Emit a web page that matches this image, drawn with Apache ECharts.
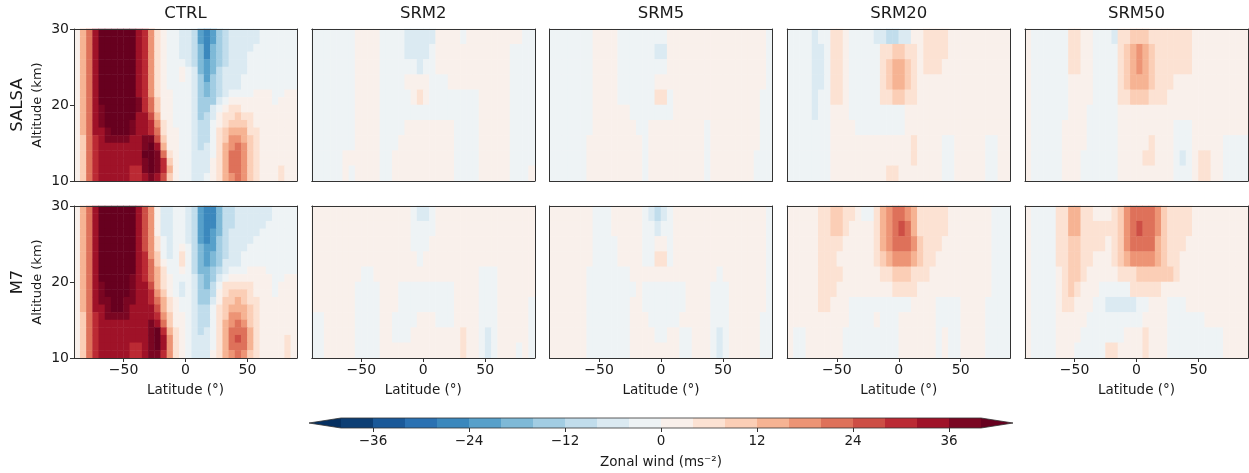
<!DOCTYPE html>
<html><head><meta charset="utf-8">
<script src="https://cdn.jsdelivr.net/npm/echarts@6/dist/echarts.min.js"></script>
<style>html,body{margin:0;padding:0;background:#fff}#c{width:1249px;height:473px}</style>
</head><body><div id="c"></div>
<script>
// ---------- data ----------
const latitudes = [-87.5,-82.5,-77.5,-72.5,-67.5,-62.5,-57.5,-52.5,-47.5,-42.5,-37.5,-32.5,-27.5,-22.5,-17.5,-12.5,-7.5,-2.5,2.5,7.5,12.5,17.5,22.5,27.5,32.5,37.5,42.5,47.5,52.5,57.5,62.5,67.5,72.5,77.5,82.5,87.5];
const altitudesCtrl = [29.5,28.5,27.5,26.5,25.5,24.5,23.5,22.5,21.5,20.5,19.5,18.5,17.5,16.5,15.5,14.5,13.5,12.5,11.5,10.5]; // rows of CTRL matrices (top to bottom)
const altitudesSrm = [29,27,25,23,21,19,17,15,13,11]; // rows of SRM matrices (top to bottom)
const columnTitles = ['CTRL','SRM2','SRM5','SRM20','SRM50'];
const rowNames = ['SALSA','M7'];
const latTicks = [-50,0,50];
const cbLevels = [-40,-36,-32,-28,-24,-20,-16,-12,-8,-4,0,4,8,12,16,20,24,28,32,36,40];
const cbTicks = [-36,-24,-12,0,12,24,36];

const CTRL_SALSA = [
[3,12,23,33, 45,45,45,45,45,45, 35,28,17,4,0.5,-1,-4,-6, -6,-10,-21,-26,-21,-15,-10,-7,-6,-5,-4.5,-4.5,-3,-2,-2,-2,-2,-2],
[3,12,23,33, 45,45,45,45,45,45, 35,28,17,4,0.5,-1,-4,-6, -6,-10,-21,-26,-21,-15,-10,-7,-6,-5,-4.5,-4.5,-3,-2,-2,-2,-2,-2],
[3,12,23,33, 45,45,45,45,45,45, 35,28,17,4,0.5,-1,-4,-6, -6,-10,-20,-26,-20,-14,-10,-7,-6,-5,-4.5,-4,-3,-2,-2,-2,-2,-2],
[3,12,23,33, 45,45,45,45,45,45, 35,28,17,5,0.5,-1,-3,-5, -6,-9,-19,-25,-19,-14,-9,-7,-5,-5,-4,-3,-2,-2,-2,-2,-2,-2],
[3,12,23,33, 45,45,45,45,45,45, 35,28,17,5,1,-1,-3,-4, -5,-9,-18,-23,-18,-13,-9,-6,-5,-4.5,-4,-3,-2,-2,-2,-2,-2,-2],
[3,12,23,33, 45,45,45,45,45,45, 35,28,17,6,1,-1,-2,1, -4,-8,-17,-22,-17,-12,-8,-6,-5,-4.5,-3.5,-3,-2,-2,-2,-2,-2,-2],
[3,12,23,33, 45,45,45,45,45,45, 35,29,18,6,1,-1,-2,1, -4,-8,-16,-21,-16,-11,-8,-6,-5,-4,-3,-3,-2,-1,-1,-1,-1,-1],
[3,12,23,33, 45,45,45,45,45,44, 35,29,18,7,1,-1,-1,-2, -3,-8,-15,-20,-15,-10,-7,-5,-4.5,-3,-2,-2,-2,-1,-1,-1,-1,-1],
[3,12,23,33, 44,45,45,45,45,43, 35,29,19,7,2,0,-1,-2, -3,-8,-15,-18,-14,-9,-5,-3,-2,-1,-0.5,0.5,0.5,0.5,-0.5,-0.5,0.5,0.5],
[3,12,23,33, 42,45,45,45,45,42, 36,30,20,8,2,0,-1,-2, -3,-8,-14,-16,-13,-7,-2,0.5,1,1,1,0.5,0.5,0.5,-0.5,0.5,0.5,0.5],
[3,12,23,33, 38,45,45,45,45,41, 36,30,20,9,2,0.5,-1,-2, -3,-8,-13,-13,-8,-3,3,5,5,3,2,1,1,1,1,1,1,1],
[3,12,23,33, 37,43,45,45,45,41, 35,32,24,12,3,0.5,-1,-2, -3,-8,-13,-12,-6,1,5,7,8,6,4,2,1,1,1,1,1,1],
[3,12,23,33, 36,42,45,45,42,38, 35,34,28,16,5,1,-1,-2, -3,-8,-12,-11,-4,3,7,10,11,9,5,3,1,1,1,1,1,1],
[3,12,23,33, 35,38,43,43,41,37, 34,34,31,20,7,1,0,-2, -3,-7,-11,-10,-3,4,9,14,15,12,7,4,2,1,1,1,1,1],
[2,10,20,30, 34,36,38,38,36,34, 34,36,38,26,10,2,0,-1, -3,-7,-10,-9,-2,5,11,17,18,14,8,4,2,1,1,1,1,1],
[2,10,20,30, 34,34,34,34,34,34, 34,38,41,32,14,3,0,-1, -3,-6,-9,-8,-1,5,12,19,20,16,9,5,2,1,1,1,1,1],
[2,10,20,30, 34,34,34,34,34,34, 34,40,44,36,20,5,1,-1, -3,-6,-8,-7,-1,5,13,21,22,18,10,5,2,1,1,1,1,1],
[2,10,20,30, 34,34,34,34,34,34, 33,39,44,37,28,10,2,-1, -2,-6,-7,-6,0,5,13,21,22,18,10,5,2,1,1,1,1,1],
[2,10,20,30, 34,34,34,34,34,30, 31,37,41,37,28,12,2,-1, -2,-5,-6,-5,0,5,13,20,22,18,10,5,2,1,2,5,1,1],
[2,10,20,30, 34,34,34,34,34,30, 31,35,37,35,26,11,2,-1, -2,-5,-6,-4,0,4,12,19,21,17,9,5,2,1,2,5,1,1]
];
const CTRL_M7 = [
[3,12,23,33, 45,45,45,45,45,45, 34,26,16,1,-5,-5,-3,-2, -6,-11,-24,-27,-25,-19,-12,-9,-7,-6,-5,-5,-4.5,-4.5,-3,-2,-2,-2],
[3,12,23,33, 45,45,45,45,45,45, 34,26,16,1,-5,-5,-3,-2, -6,-11,-24,-27,-25,-19,-12,-9,-7,-6,-5,-5,-4.5,-4.5,-3,-2,-2,-2],
[3,12,23,33, 45,45,45,45,45,45, 34,26,16,2,-5,-5,-3,-2, -6,-11,-24,-27,-25,-18,-12,-9,-7,-6,-5,-5,-4.5,-4,-3,-2,-2,-2],
[3,12,23,33, 45,45,45,45,45,45, 34,26,17,3,-5,-5,-3,-2, -6,-10,-23,-26,-24,-17,-11,-8,-6,-5,-5,-4.5,-4,-3,-2,-2,-2,-2],
[3,12,23,33, 45,45,45,45,45,45, 34,27,17,4,-4,-5,-3,-2, -5,-10,-22,-25,-22,-16,-10,-7,-6,-5,-4.5,-4,-3,-2,-2,-2,-2,-2],
[3,12,23,33, 45,45,45,45,45,45, 34,27,18,6,-3,-5,-3,3, -2,-9,-20,-23,-21,-15,-10,-7,-5,-4.5,-4,-3,-2,-2,-2,-2,-2,-2],
[3,12,23,33, 45,45,45,45,45,44, 34,28,19,8,-2,-5,-3,5, -2,-9,-19,-22,-20,-14,-9,-6,-5,-4,-3,-3,-2,-1,-1,-1,-1,-1],
[3,12,23,33, 45,45,45,45,45,43, 34,28,20,9,1,-4,-3,5, -3,-9,-18,-21,-18,-13,-8,-6,-4.5,-3,-2,-2,-2,-1,-1,-1,-1,-1],
[3,12,23,33, 44,45,45,45,45,40, 35,30,22,12,4,-1,-2,2, -4,-9,-17,-19,-16,-11,-6,-3,-1,-0.5,0.5,0.5,0.5,-0.5,-0.5,-0.5,-0.5,-0.5],
[3,12,23,33, 42,45,45,45,44,38, 35,30,22,12,4,0.5,-2,-3, -4,-8,-16,-18,-14,-8,-2,1,1,1,1,1,0.5,0.5,-0.5,-0.5,0.5,0.5],
[3,12,23,33, 38,45,45,45,43,37, 35,32,25,15,6,1,-3,-5, -3,-8,-15,-17,-12,-4,4,5,5,5,4,2,1,0.5,-0.5,0.5,0.5,0.5],
[3,12,23,33, 37,41,45,45,41,36, 34,33,28,19,9,2,-2,-5, -3,-8,-14,-15,-9,1,6,8,9,8,5,3,1,1,-0.5,1,1,1],
[3,12,23,33, 36,39,43,43,39,36, 34,34,31,23,12,4,0.5,-2, -3,-8,-13,-13,-6,3,8,10,12,10,6,4,1,1,1,1,1,1],
[3,12,23,33, 35,38,41,42,38,35, 34,34,33,26,15,6,1,-1, -3,-8,-12,-11,-4,4,10,14,15,13,8,4,2,1,1,1,1,1],
[2,10,20,30, 34,36,38,38,36,34, 34,34,34,30,18,8,2,0, -3,-7,-11,-10,-3,4,11,16,18,15,9,5,2,1,1,1,1,1],
[2,10,20,30, 34,34,34,34,34,34, 34,34,36,35,22,10,3,0.5, -3,-7,-10,-9,-2,5,12,18,21,18,11,5,2,1,1,1,1,1],
[2,10,20,30, 34,34,34,34,34,34, 34,34,38,42,30,14,5,1, -3,-6,-9,-8,-2,5,13,20,23,20,12,6,2,1,1,1,1,1],
[2,10,20,30, 34,34,34,34,34,34, 34,35,39,44,34,18,7,2, -2,-6,-8,-7,-1,5,13,21,24,21,12,6,2,1,1,2,5,1],
[2,10,20,30, 34,34,34,34,34,31, 30,34,38,42,33,18,7,2, -2,-6,-7,-6,-1,5,13,21,23,21,12,6,2,1,1,2,5,1],
[2,10,20,30, 33,33,33,33,33,31, 29,33,36,38,31,16,6,1, -2,-5,-6,-5,0,4,12,19,22,19,11,5,2,1,1,2,5,1]
];
const SRM2_SALSA = [
[-1,-1,-1,-1,-1,-1,-1, 1,1,1,1, -1,-1,-1,-1, -5,-5,-5,-5,-5, 1,1,1,1, -1, 1,1,1,1,1,1,1,1,1, -1,-1],
[-1,-1,-1,-1,-1,-1,-1, 1,1,1,1, -1,-1,-1,-1, -5,-5,-5,-5, -1, 1,1,1,1,1,1,1,1,1,1,1,1, -1,-1,-1,-1],
[-1,-1,-1,-1,-1,-1,-1, 1,1,1,1, -1,-1,-1,-1,-1,-1, -5, -1,-1, 1,1,1,1,1,1,1,1,1,1,1,1, -1,-1,-1,-1],
[-1,-1,-1,-1,-1,-1,-1, 1,1,1,1, -1,-1,-1,-1, 1,1,1,1, -1,-1,-1, 1,1,1,1,1,1,1,1,1,1, -1,-1,-1,-1],
[-1,-1,-1,-1,-1,-1,-1, 1,1,1,1, -1,-1,-1,-1,-1, 1,5,1, -1,-1,-1,-1,-1,-1,-1,-1, 1,1,1,1,1, -1,-1,-1,-1],
[-1,-1,-1,-1,-1,-1,-1, 1,1,1,1, -1,-1,-1,-1,-1,-1,-1,-1,-1,-1,-1,-1,-1,-1,-1,-1, 1,1,1,1,1, -1,-1,-1,-1],
[-1,-1,-1,-1,-1,-1,-1, 1,1,1,1, -1,-1,-1,-1, 1,1,1,1,1,1,1,1, -1,-1,-1,-1, 1,1,1,1,1, -1,-1,-1,-1],
[-1,-1,-1,-1,-1,-1,-1, 1,1,1,1, -1,-1,-1, 1,1,1,1,1,1,1,1,1, -1,-1,-1,-1, 1,1,1,1,1, -1,-1,-1,-1],
[-1,-1,-1,-1,-1, 1,1,1,1,1,1, -1,-1, 1,1,1,1,1,1,1,1,1,1, -1,-1,-1,-1, 1,1,1,1,1, -1,-1,-1,-1],
[-1,-1,-1,-1,-1, 1, -1, 1,1,1,1, -1,-1, 1,1,1,1,1,1,1,1,1,1, -1,-1,-1,-1, 1,1,1,1,1, -1,-1,-1, 1]
];
const SRM5_SALSA = [
[-1,-1,-1,-1,-1,-1,-1, 1,1,1,1, -1,-1,-1,-1,-1,-1,-1,-1, 1,1,1,1,1,1,1,1,1,1,1,1,1,1,1,1, -1],
[-1,-1,-1,-1,-1,-1,-1, 1,1,1,1, -1,-1,-1,-1,-1,-1, -5,-5, 1,1,1,1,1,1,1,1,1,1,1,1,1,1,1,1, -1],
[-1,-1,-1,-1,-1,-1,-1, 1,1,1,1, -1,-1,-1,-1,-1,-1,-1,-1, 1,1,1,1,1,1,1,1,1,1,1,1,1,1,1,1, -1],
[-1,-1,-1,-1,-1,-1,-1, 1,1,1,1, -1,-1,-1,-1,-1,-1, 1,1,1,1,1,1,1,1,1,1,1,1,1,1,1,1,1,1, -1],
[-1,-1,-1,-1,-1,-1,-1, 1,1,1,1, -1,-1,-1,-1,-1,-1, 5,5, -1, 1,1,1,1,1,1,1,1,1,1,1,1,1,1, -1,-1],
[-1,-1,-1,-1,-1,-1,-1, 1,1,1,1,1,1, -1,-1,-1,-1,-1,-1,-1, 1,1,1,1,1,1,1,1,1,1,1,1,1,1, -1,-1],
[-1,-1,-1,-1,-1,-1,-1, 1,1,1,1,1,1,1, -1,-1, 1,1,1,1,1,1,1,1,1, -1, 1,1,1,1,1,1,1,1, -1,-1],
[-1,-1,-1,-1,-1,-1, 1,1,1,1,1,1,1,1,1, -1, 1,1,1,1,1,1,1,1,1, -1, 1,1,1,1,1,1,1,1, -1,-1],
[-1,-1,-1,-1,-1,-1, 1,1,1,1,1,1,1,1,1, -1, 1,1,1,1,1,1,1,1,1, -1, 1,1,1,1,1,1,1, -1,-1,-1],
[-1,-1,-1,-1,-1,-1, 1,1,1,1,1,1,1,1,1, -1, 1,1,1,1,1,1,1,1,1, -1, 1,1,1,1,1,1,1, -1,-1,-1]
];
const SRM20_SALSA = [
[-1,-1,-1,-1, -5, -1,-1, 5,5, 1, -1,-1,-1,-1, -5,-5, -9,-9, -5,-5, 1,1, 5,5,5,5, 1,1,1,1,1,1,1,1,1,1],
[-1,-1,-1,-1, -5,-5, -1, 5,5, 1, -1,-1,-1,-1,-1, 5,5, 9,9, 5,5, 1, 5,5,5,5, 1,1,1,1,1,1,1,1,1,1],
[-1,-1,-1,-1, -5,-5, -1, 5,5, 1, -1,-1,-1,-1,-1, 5, 9, 13,13, 9, 5, 1, 5,5,5, 1,1,1,1,1,1,1,1,1,1,1],
[-1,-1,-1,-1, -5,-5, -1, 5,5, 1, -1,-1,-1,-1,-1, 5, 9, 13,13, 9, 5, 1,1,1,1,1,1,1,1,1,1,1,1,1,1,1],
[-1,-1,-1,-1, -5, -1,-1, 5,5, 1, -1,-1,-1,-1,-1, 5,5, 9,9, 5,5, 1,1,1,1,1,1,1,1,1,1,1,1,1,1,1],
[-1,-1,-1,-1, -5, -1,-1, 1,1,1, -1,-1,-1,-1,-1,-1,-1,-1,-1, 1,1,1,1,1,1,1,1,1,1,1,1,1,1,1,1,1],
[-1,-1,-1,-1,-1,-1,-1, 1,1,1,1, -1,-1,-1,-1,-1,-1,-1,-1, 1,1,1,1,1,1,1,1,1,1,1,1,1,1,1,1,1],
[-1,-1,-1,-1,-1,-1,-1, 1,1,1,1,1,1,1,1,1,1,1,1,1, 5, 1,1,1,1, -1,-1, 1,1,1,1,1, -1,-1, 1,1],
[-1,-1,-1,-1,-1,-1,-1, 1,1,1,1,1,1,1,1,1,1,1,1,1, 5, 1,1,1,1, -1,-1, 1,1,1,1,1, -1,-1, 1,1],
[-1,-1,-1,-1,-1,-1,-1, 1,1,1,1,1,1,1,1,1, 5,5, 1,1,1,1,1,1,1, -1,-1, 1,1,1,1,1, -1,-1, 1,1]
];
const SRM50_SALSA = [
[1, -1,-1,-1,-1,-1,-1, 5,5, 1,1, -1,-1,-1, -5, 5,5, 9,9,9, 5,5,5,5,5,5,5, 1,1,1,1,1,1,1,1,1],
[1, -1,-1,-1,-1,-1,-1, 5,5, 1,1, -1,-1,-1,-1, 5, 9, 13, 17, 13, 9, 5,5,5,5,5,5, 1,1,1,1,1,1,1,1,1],
[1, -1,-1,-1,-1,-1,-1, 5,5, 1,1, -1,-1,-1,-1, 5, 9, 13, 17, 13, 9, 5,5,5,5,5,5, 1,1,1,1,1,1,1,1,1],
[1, -1,-1,-1,-1,-1,-1, 1,1,1,1, -1,-1,-1,-1, 5, 9, 13,13,13, 9, 5,5,5, 1,1,1,1,1,1,1,1,1,1,1,1],
[1, -1,-1,-1,-1,-1,-1, 1,1,1,1, -1,-1,-1,-1, 5,5, 9,9,9, 5,5,5, 1,1,1,1,1,1,1,1,1,1,1,1,1],
[1, -1,-1,-1,-1,-1,-1, 1,1,1, -1,-1,-1,-1,-1, 1,1,1,1,1,1,1,1,1,1,1,1,1,1,1,1,1,1,1,1,1],
[1, -1,-1,-1,-1,-1, 1,1,1,1, -1,-1,-1,-1,-1, 1,1,1,1,1,1,1,1,1, -1,-1,-1, 1,1,1,1,1,1,1,1,1],
[1, -1,-1,-1,-1,-1, 1,1,1,1, -1,-1,-1,-1,-1, 1,1,1,1,1, 5, 1,1,1, -1,-1,-1, 1,1,1,1,1, -1,-1,-1,-1],
[1, -1,-1,-1,-1,-1, 1,1,1, -1,-1,-1,-1,-1,-1, 1,1,1,1, 5,5, 1,1,1, -1, -5, -1, 1, 5,5, 1,1, -1,-1,-1,-1],
[1, -1,-1,-1,-1,-1, 1,1,1, -1,-1,-1,-1,-1,-1, 1,1,1,1,1,1,1,1,1, -1,-1,-1, 1, 5,5, 1,1, -1,-1,-1,-1]
];
const SRM2_M7 = [
[1,1,1,1,1,1,1,1,1,1,1,1,1,1,1,1, -1, -5,-5, -1, 1,1,1,1,1,1,1,1,1,1,1,1,1,1,1,1],
[1,1,1,1,1,1,1,1,1,1,1,1,1,1,1,1, -1,-1,-1,-1, 1,1,1,1,1,1,1,1,1,1,1,1,1,1,1,1],
[1,1,1,1,1,1,1,1,1,1,1,1,1,1,1,1, -1,-1,-1, 1,1,1,1,1,1,1,1,1,1,1,1,1,1,1,1,1],
[1,1,1,1,1,1,1,1,1,1,1,1,1,1,1,1,1, -1, 1,1,1,1,1,1,1,1,1,1,1,1,1,1,1,1,1,1],
[1,1,1,1,1,1,1,1, -1,-1, 1,1,1,1,1,1,1,1,1,1,1,1,1,1,1,1,1, -1,-1,-1, 1,1,1,1,1,1],
[1,1,1,1,1,1,1, -1,-1,-1,-1, 1,1,1, -1,-1,-1,-1,-1,-1,-1,-1,-1, 1,1,1,1, -1,-1,-1, 1,1,1,1,1,1],
[1,1,1,1,1,1,1, -1,-1,-1,-1, 1,1,1, -1,-1,-1,-1,-1,-1,-1,-1,-1, 1,1,1,1, -1,-1,-1, 1,1,1,1,1, -1],
[-1,-1, 1,1,1,1,1, -1,-1,-1,-1, 1,1, -1,-1,-1,-1, 1,1,1, -1,-1,-1, 1,1,1,1, -1,-1,-1, 1,1,1,1,1, -1],
[-1,-1, 1,1,1,1,1, -1,-1,-1,-1, 1,1, -1,-1,-1, 1,1,1,1,1,1,1,1, 5, 1,1, -1, -5, -1, 1,1,1,1,1, -1],
[-1,-1, 1,1,1,1,1, -1,-1,-1,-1, 1,1,1,1,1,1,1,1,1,1,1,1,1, 5, 1,1, -1, -5, -1, 1,1,1, -1, 1, -1]
];
const SRM5_M7 = [
[1,1,1,1,1,1,1, -1,-1,-1, 1,1,1,1,1, -1, -5, -9, -5, -1, 1,1,1,1,1,1,1,1,1,1,1,1,1,1,1, -1],
[1,1,1,1,1,1,1, -1,-1,-1, 1,1,1,1,1, -1,-1, -5, -1,-1, 1,1,1,1,1,1,1,1,1,1,1,1,1,1,1, -1],
[1,1,1,1,1,1,1, -1,-1,-1,-1, 1,1,1,1, -1,-1, 1,1, -1, 1,1,1,1,1,1,1,1,1,1,1,1,1,1,1, -1],
[1,1,1,1,1,1,1, -1,-1,-1,-1, 1,1,1,1, -1,-1, 5,5, -1, 1,1,1,1,1,1,1,1,1,1,1,1,1,1,1, -1],
[1,1,1,1,1,1, -1,-1,-1,-1,-1,-1,-1, 1,1,1,1,1,1,1,1,1,1,1,1,1,1, -1, 1,1,1,1,1,1,1, -1],
[1,1,1,1,1,1, -1,-1,-1,-1,-1,-1,-1,-1, 1, -1,-1,-1,-1,-1,-1,-1, 1,1,1,1, -1,-1,-1, 1,1,1,1,1,1, -1],
[1,1,1,1,1,1, -1,-1,-1,-1,-1,-1,-1, 1,1, -1,-1,-1,-1,-1,-1,-1, 1,1,1,1, -1,-1,-1, 1,1,1,1,1,1, -1],
[1,1,1,1,1,1, -1,-1,-1,-1,-1,-1,-1, 1,1,1, -1,-1,-1,-1,-1, 1,1,1,1,1, -1,-1,-1, 1,1,1,1,1, -1,-1],
[1,1,1,1,1,1, -1,-1,-1,-1,-1,-1,-1, 1,1,1,1, -1,-1, 1,1, -1,-1, 1,1,1, -1, -5, -1, 1,1,1,1,1, -1,-1],
[1,1,1,1,1,1, -1,-1,-1,-1,-1,-1,-1, 1,1,1,1,1,1,1,1, -1,-1, 1,1,1, -1, -5, -1, 1,1,1,1,1, -1,-1]
];
const SRM20_M7 = [
[1,1,1,1,1, 5,5, 9,9, 5,5, 1, -1,-1, 5, 13, 17, 21,21, 17, 13, 5,5,5,5,5, 1,1,1,1,1,1,1, -1,-1,-1],
[1,1,1,1,1, 5,5, 9,9, 5, 1,1,1,1, 5, 13, 17, 21, 25, 21, 13, 5,5,5,5,5, 1,1,1,1,1,1,1, -1,-1,-1],
[1,1,1,1,1, 5,5,5,5, 1,1,1,1,1, 5, 13, 17, 21,21,21, 17, 9, 5,5,5, 1,1,1,1,1,1,1,1, -1,-1,-1],
[1,1,1,1,1, 5,5,5, 1,1,1,1,1,1, 5, 9, 13, 17,17,17, 13, 9, 5,5, 1,1,1,1,1,1,1,1,1, -1,-1,-1],
[1,1,1,1,1, 5,5,5,5, 1,1,1,1,1,1, 5,5, 9,9,9, 5,5,5, 1,1,1,1,1,1,1,1,1,1, -1,-1,-1],
[1,1,1,1,1, 5,5,5, 1,1,1,1,1,1,1,1,1, 5,5,5,5, 1,1,1,1,1,1,1,1,1,1,1,1, -1,-1,-1],
[1,1,1,1,1, 5,5, 1,1,1, -1,-1,-1,-1,-1,-1,-1,-1,-1,-1, 1,1,1,1, -1,-1,-1,-1, 1,1,1,1, -1,-1,-1,-1],
[1,1,1,1,1,1,1,1,1,1, -1,-1,-1,-1, 1, -1,-1,-1, 1,1,1,1,1,1, -1,-1,-1,-1, 1,1,1,1, -1,-1,-1,-1],
[1, -1,-1, 1,1,1,1,1,1, -1,-1,-1,-1,-1,-1,-1,-1,-1, 1,1,1,1,1,1, -1, 1, -1,-1, 1,1,1,1, -1,-1,-1,-1],
[1, -1,-1, 1,1,1,1,1,1, -1,-1,-1,-1,-1,-1,-1,-1,-1, 1,1,1,1,1,1, -1, 1, -1,-1, 1,1,1,1, -1,-1,-1,-1]
];
const SRM50_M7 = [
[1, -1,-1,-1,-1, 5,5, 13,13, 5,5, 1,1,1, 5, 9, 17, 21,21,21,21, 17, 9, 5,5,5,5, 1,1,1,1,1,1,1,1,1],
[1, -1,-1,-1,-1, 5,5, 13,13, 5,5,5,5,5,5, 9, 17, 21, 25, 21,21, 17, 9, 5,5,5,5, 1,1,1,1,1,1,1,1,1],
[1, -1,-1,-1,-1, 5,5, 9,9, 5,5,5,5, 1, 5, 9, 17, 21,21,21,21, 13, 9, 5,5,5, 1,1,1,1,1,1,1,1,1,1],
[1, -1,-1,-1,-1, 5,5, 9,9, 5,5, 1,1,1, 5, 9, 13, 17,17,17,17, 13, 9, 5,5, 1,1,1,1,1,1,1,1,1,1,1],
[1, -1,-1,-1,-1, 1, 5, 9,9, 5, 1,1,1,1,1, 5,5,5, 9,9,9,9,9,9, 5, 1,1,1,1,1,1,1,1,1,1,1],
[1, -1,-1,-1,-1, 1, 5, 9, 5, 1,1,1, -1,-1,-1,-1,-1, 5,5,5,5,5, 1,1,1,1,1,1,1,1,1,1,1,1,1,1],
[1, -1,-1,-1,-1, 1, 5,5, 1,1,1, -1,-1, -5,-5,-5,-5,-5, -1,-1, 1,1,1, -1,-1,-1, 1,1,1,1,1,1,1,1,1,1],
[1, -1,-1,-1,-1, 1,1,1,1,1, -1,-1,-1,-1,-1,-1,-1,-1,-1, 1,1,1,1, -1,-1,-1,-1,-1,-1, 1,1,1,1,1,1,1],
[1, -1,-1,-1,-1, 1,1,1,1, -1,-1,-1,-1,-1,-1,-1, 1,1,1, 5, 1,1,1, -1,-1,-1,-1,-1,-1,-1,-1,-1, 1,1,1,1],
[1, -1,-1,-1,-1, 1,1,1, -1,-1,-1,-1,-1, 5,5, 1,1,1,1, 5, 1,1,1, -1,-1,-1,-1,-1,-1,-1,-1,-1, 1,1,1,1]
];

// ---------- style / layout ----------
const FONT = 'DejaVu Sans';
const TXT = '#1a1a1a';
const FRAME = {color:'#333333', width:1};
const gridLeft0 = 74, gridStep = 237.75, gridW = 223, gridH = 152, rowTops = [29, 206];
const rdbu = ['#053061','#2166ac','#4393c3','#92c5de','#d1e5f0','#f7f7f7','#fddbc7','#f4a582','#d6604d','#b2182b','#67001f'];
function hex2rgb(h){return [1,3,5].map(i=>parseInt(h.substr(i,2),16));}
function cmap(t){
  const p = t*10, i = Math.min(9, Math.floor(p)), f = p - i;
  const a = hex2rgb(rdbu[i]), b = hex2rgb(rdbu[i+1]);
  return 'rgb(' + a.map((v,k)=>Math.round(v+(b[k]-v)*f)).join(',') + ')';
}
const nBins = cbLevels.length - 1;
const binColors = cbLevels.slice(0,-1).map((_,k)=>cmap((k+0.5)/nBins));
const underColor = rdbu[0], overColor = rdbu[10];
const pieces = [{lt: cbLevels[0], color: underColor}];
for (let k=0;k<nBins;k++) pieces.push({gte: cbLevels[k], lt: cbLevels[k+1], color: binColors[k]});
pieces.push({gte: cbLevels[nBins], color: overColor});
const fmt = v => v < 0 ? '\u2212' + Math.abs(v) : String(v);

const panels = [
  [CTRL_SALSA, altitudesCtrl], [SRM2_SALSA, altitudesSrm], [SRM5_SALSA, altitudesSrm], [SRM20_SALSA, altitudesSrm], [SRM50_SALSA, altitudesSrm],
  [CTRL_M7, altitudesCtrl], [SRM2_M7, altitudesSrm], [SRM5_M7, altitudesSrm], [SRM20_M7, altitudesSrm], [SRM50_M7, altitudesSrm]
];
const grids = [], xAxes = [], yAxes = [], series = [];
panels.forEach(([mat, alts], p) => {
  const row = Math.floor(p/5), col = p % 5;
  const isBottom = row === 1, isLeft = col === 0;
  grids.push({left: gridLeft0 + col*gridStep, top: rowTops[row], width: gridW, height: gridH});
  const cx = xAxes.length;
  xAxes.push({type:'category', gridIndex:p, data: latitudes.map(String), position:'top', boundaryGap:true,
    axisLine:{show:true, onZero:false, lineStyle:FRAME}, axisTick:{show:false}, axisLabel:{show:false}, splitLine:{show:false}, z:10});
  xAxes.push({type:'value', gridIndex:p, min:-90, max:90, position:'bottom',
    axisLine:{show:true, onZero:false, lineStyle:FRAME},
    axisTick:{show:isBottom, length:4, lineStyle:{color:'#333'}, customValues: latTicks},
    axisLabel:{show:isBottom, customValues: latTicks, formatter: fmt, fontSize:14, color:TXT, fontFamily:FONT, margin:5},
    splitLine:{show:false},
    name: isBottom ? 'Latitude (\u00b0)' : '', nameLocation:'middle', nameGap:25,
    nameTextStyle:{fontSize:13.5, color:TXT, fontFamily:FONT}, z:10});
  const cy = yAxes.length;
  yAxes.push({type:'category', gridIndex:p, data: alts.map(String), inverse:true, position:'right', boundaryGap:true,
    axisLine:{show:true, onZero:false, lineStyle:FRAME}, axisTick:{show:false}, axisLabel:{show:false}, splitLine:{show:false}, z:10});
  yAxes.push({type:'value', gridIndex:p, min:10, max:30, interval:10, position:'left',
    axisLine:{show:true, onZero:false, lineStyle:FRAME},
    axisTick:{show:isLeft, length:4, lineStyle:{color:'#333'}},
    axisLabel:{show:isLeft, fontSize:14, color:TXT, fontFamily:FONT, margin:5},
    splitLine:{show:false},
    name: isLeft ? 'Altitude (km)' : '', nameLocation:'middle', nameGap:30,
    nameTextStyle:{fontSize:13, color:TXT, fontFamily:FONT}, z:10});
  const data = [];
  mat.forEach((r, ri) => r.forEach((v, ci) => data.push([ci, ri, v])));
  series.push({type:'heatmap', xAxisIndex:cx, yAxisIndex:cy, data, silent:true, emphasis:{disabled:true}, progressive:0});
});

// colorbar
const cbGrid = grids.length;
const extLen = cbLevels[1] - cbLevels[0];
const cbMin = cbLevels[0] - extLen, cbMax = cbLevels[nBins] + extLen;
grids.push({left:309, top:418, width:704, height:10});
const cbX = xAxes.length, cbY = yAxes.length;
xAxes.push({type:'value', gridIndex:cbGrid, min:cbMin, max:cbMax, position:'bottom',
  axisLine:{show:false, onZero:false}, axisTick:{show:true, length:4, lineStyle:{color:'#333'}, customValues: cbTicks},
  axisLabel:{show:true, customValues: cbTicks, formatter: fmt, fontSize:13.5, color:TXT, fontFamily:FONT, margin:6},
  splitLine:{show:false}, name:'Zonal wind (ms\u207b\u00b2)', nameLocation:'middle', nameGap:27,
  nameTextStyle:{fontSize:13.5, color:TXT, fontFamily:FONT}});
yAxes.push({type:'value', gridIndex:cbGrid, min:0, max:1, show:false});
const cbBins = cbLevels.slice(0,-1).map((lo,k)=>[lo, cbLevels[k+1], k]);
series.push({type:'custom', xAxisIndex:cbX, yAxisIndex:cbY, silent:true, data: cbBins,
  renderItem:(params, api)=>{
    const a = api.coord([api.value(0), 1]), b = api.coord([api.value(1), 0]);
    return {type:'rect', shape:{x:a[0], y:a[1], width:b[0]-a[0]+0.5, height:b[1]-a[1]}, style:{fill: binColors[api.value(2)]}};
  }});
const cbExt = [[cbLevels[0], cbMin, 0], [cbLevels[nBins], cbMax, 1]];
series.push({type:'custom', xAxisIndex:cbX, yAxisIndex:cbY, silent:true, data: cbExt,
  renderItem:(params, api)=>{
    const base = api.value(0), tip = api.value(1);
    const p1 = api.coord([base, 1]), p2 = api.coord([base, 0]), p3 = api.coord([tip, 0.5]);
    return {type:'polygon', shape:{points:[p1,p2,p3]}, style:{fill: api.value(2) ? overColor : underColor}};
  }});
series.push({type:'custom', xAxisIndex:cbX, yAxisIndex:cbY, silent:true, z:5, data: [[cbMin, cbMax]],
  renderItem:(params, api)=>{
    const lo = cbLevels[0], hi = cbLevels[nBins];
    const pts = [api.coord([cbMin,0.5]), api.coord([lo,1]), api.coord([hi,1]), api.coord([cbMax,0.5]), api.coord([hi,0]), api.coord([lo,0])];
    return {type:'polygon', shape:{points:pts}, style:{fill:'none', stroke:'#333', lineWidth:0.8}};
  }});

const graphic = [];
columnTitles.forEach((t,i)=>graphic.push({type:'text', x: gridLeft0 + i*gridStep + gridW/2, y: 14,
  style:{text:t, fontSize:16.5, fontFamily:FONT, fill:TXT, align:'center', verticalAlign:'middle', textAlign:'center', textVerticalAlign:'middle'}}));
rowNames.forEach((t,r)=>graphic.push({type:'text', x: 18, y: rowTops[r] + gridH/2, rotation: Math.PI/2,
  style:{text:t, fontSize:16.5, fontFamily:FONT, fill:TXT, align:'center', verticalAlign:'middle', textAlign:'center', textVerticalAlign:'middle'}}));

const chart = echarts.init(document.getElementById('c'), null, {renderer:'canvas'});
chart.setOption({
  animation:false,
  backgroundColor:'#ffffff',
  grid: grids, xAxis: xAxes, yAxis: yAxes,
  visualMap: {type:'piecewise', show:false, dimension:2, seriesIndex: panels.map((_,i)=>i), pieces},
  series, graphic
});
</script></body></html>
